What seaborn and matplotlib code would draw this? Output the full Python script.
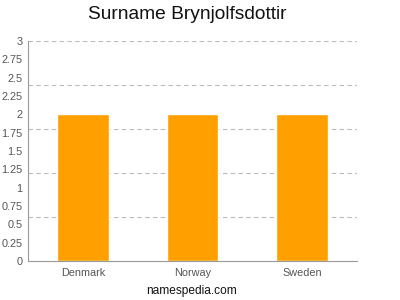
import matplotlib
matplotlib.use("Agg")
import matplotlib.pyplot as plt
import seaborn as sns
import pandas as pd
import numpy as np

countries = ["Denmark", "Norway", "Sweden"]
values = [2, 2, 2]
yticks = [0, 0.25, 0.5, 0.75, 1, 1.25, 1.5, 1.75, 2, 2.25, 2.5, 2.75, 3]
ytick_labels = ["0", "0.25", "0.5", "0.75", "1", "1.25", "1.5", "1.75", "2", "2.25", "2.5", "2.75", "3"]
grid_levels = [0.6, 1.2, 1.8, 2.4, 3.0]
title = "Surname Brynjolfsdottir"
footer = "namespedia.com"

sns.set_style("white")
plt.rcParams['font.family'] = ['Liberation Sans', 'DejaVu Sans']

df = pd.DataFrame({"country": countries, "value": values})

fig = plt.figure(figsize=(4, 3), dpi=100)
ax = fig.add_axes([0.07, 0.13, 0.8225, 0.7333])

for g in grid_levels:
    ax.axhline(g, color="#bbbbbb", linestyle=(0, (4, 3)), linewidth=0.8, zorder=0)

sns.barplot(data=df, x="country", y="value", color="#FFA000", width=0.47,
            saturation=1, ax=ax, zorder=2)

ax.set_ylim(0, 3)
ax.set_xlim(-0.5, 2.5)
ax.set_yticks(yticks)
ax.set_yticklabels(ytick_labels)
ax.set_xlabel("")
ax.set_ylabel("")
ax.tick_params(axis="both", labelsize=7.8, colors="#555555", length=3, width=0.6,
               direction="out")
ax.tick_params(axis="y", pad=1)
ax.tick_params(axis="x", pad=2)
for s in ["top", "right"]:
    ax.spines[s].set_visible(False)
for s in ["left", "bottom"]:
    ax.spines[s].set_color("#999999")
    ax.spines[s].set_linewidth(0.8)

fig.text(0.469, 0.953, title, ha="center", va="center", fontsize=13.8, color="#111111")
fig.text(0.479, 0.03, footer, ha="center", va="center", fontsize=8.6, color="#111111")

fig.savefig("out.png", dpi=100)
